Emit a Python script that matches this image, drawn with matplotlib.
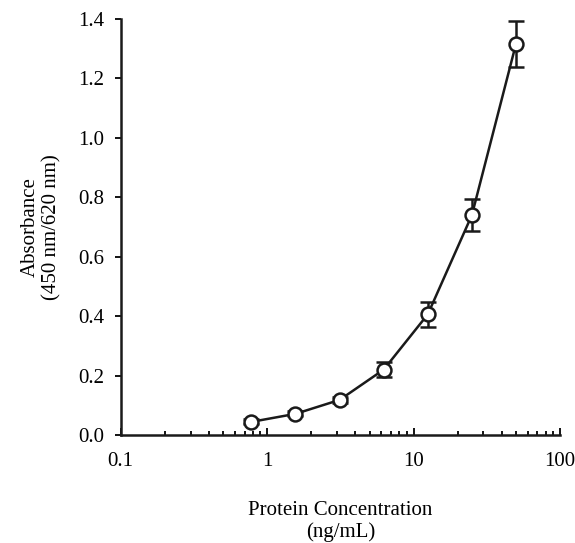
import numpy as np
import matplotlib.pyplot as plt

plt.rcParams['font.family'] = ['Liberation Serif', 'DejaVu Serif']

conc = [0.78, 1.56, 3.125, 6.25, 12.5, 25, 50]
absorb = [0.044, 0.071, 0.118, 0.220, 0.406, 0.740, 1.316]
err = [0.008, 0.008, 0.010, 0.024, 0.042, 0.055, 0.076]

fig = plt.figure(figsize=(5.75, 5.43), dpi=100)
ax = fig.add_axes([0.21, 0.199, 0.764, 0.766])

ax.errorbar(conc, absorb, yerr=err, fmt='-o', color='#1a1a1a', lw=1.8,
            mfc='white', mec='#1a1a1a', mew=1.8, ms=10, capsize=6, capthick=1.8,
            elinewidth=1.8)

ax.set_xscale('log')
ax.set_xlim(0.1, 100)
ax.set_ylim(0, 1.4)
ax.set_yticks(np.arange(0, 1.41, 0.2))
ax.set_yticklabels([f'{v:.1f}' for v in np.arange(0, 1.41, 0.2)])
ax.set_xticks([0.1, 1, 10, 100])
ax.set_xticklabels(['0.1', '1', '10', '100'])

for s in ['top', 'right']:
    ax.spines[s].set_visible(False)
for s in ['left', 'bottom']:
    ax.spines[s].set_linewidth(1.8)
    ax.spines[s].set_color('#1a1a1a')

ax.tick_params(axis='x', which='major', direction='in', length=5, width=1.3, labelsize=15, pad=12)
ax.tick_params(axis='x', which='minor', direction='in', length=3, width=1.3)
ax.tick_params(axis='y', direction='out', length=4, width=1.3, labelsize=15, pad=8)

ax.set_xlabel('Protein Concentration\n(ng/mL)', fontsize=15, labelpad=22, linespacing=1.15)
ax.set_ylabel('Absorbance\n(450 nm/620 nm)', fontsize=15, labelpad=12, linespacing=1.15)

fig.savefig('out.png', dpi=100)
